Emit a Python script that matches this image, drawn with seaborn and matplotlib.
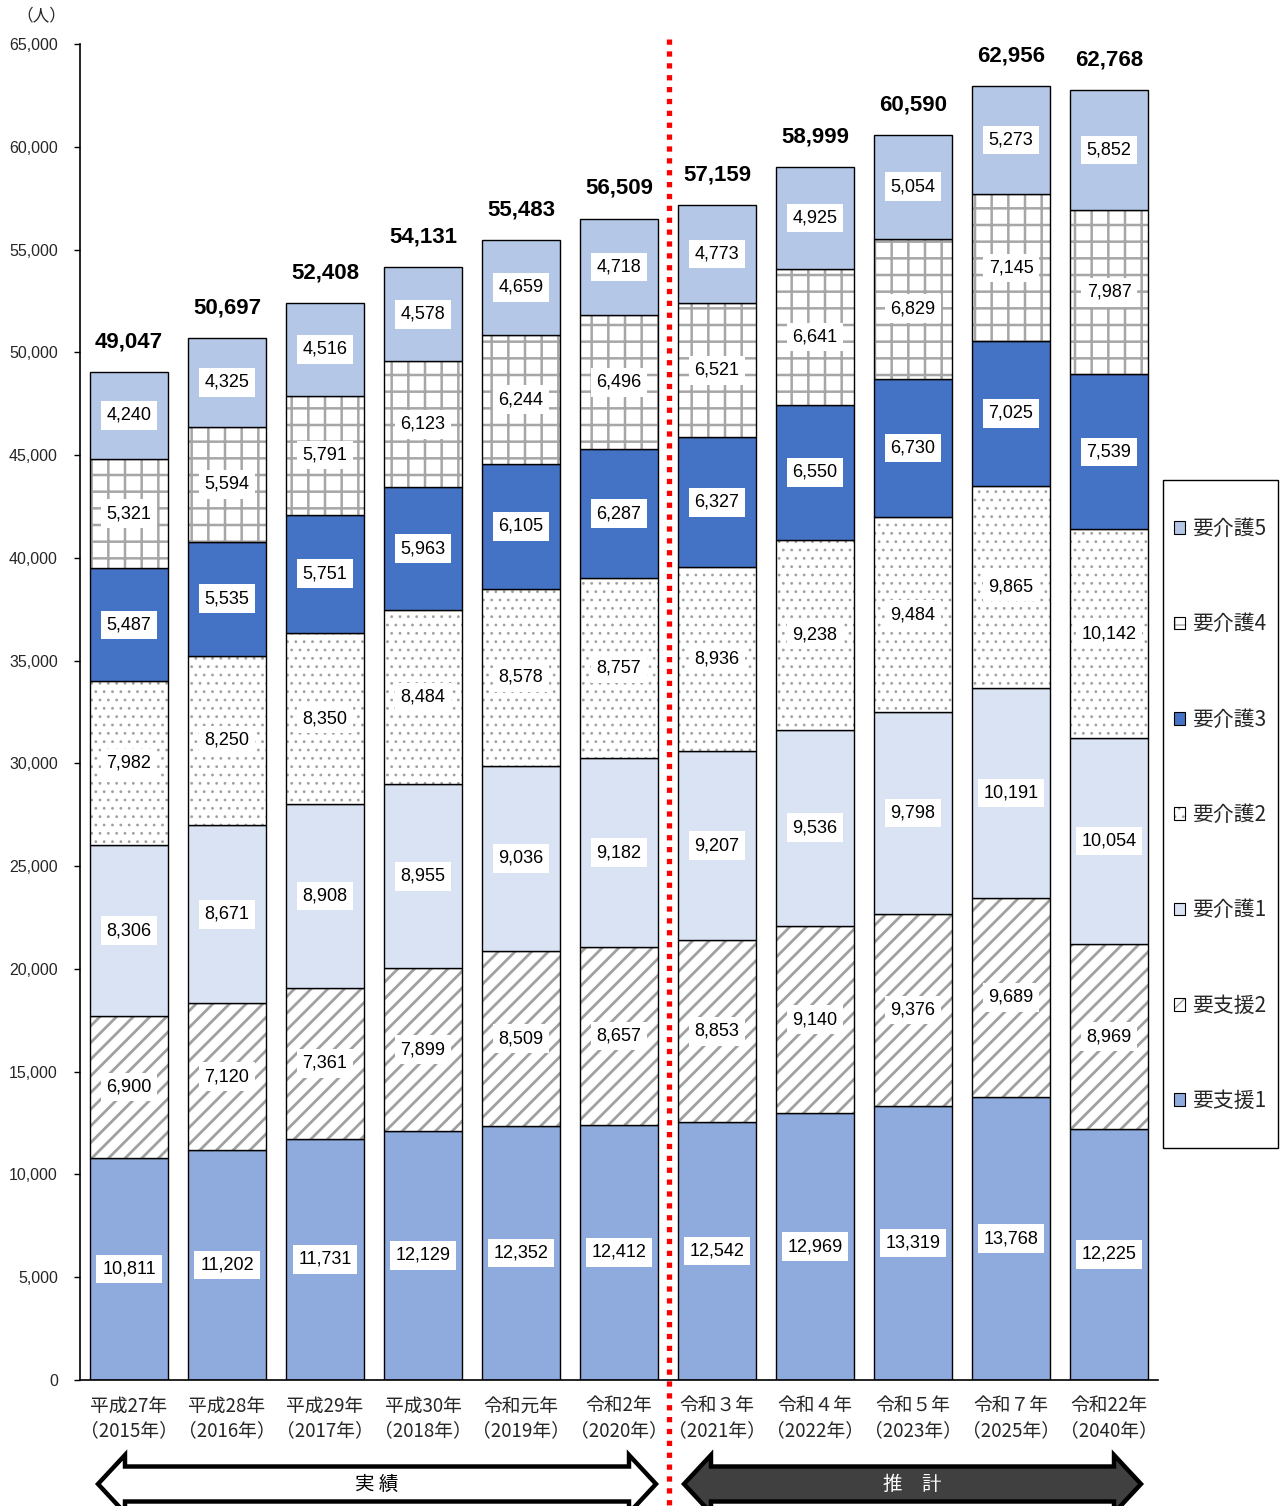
import numpy as np
import pandas as pd
import matplotlib
matplotlib.use("Agg")
import matplotlib.pyplot as plt
import matplotlib.colors as mcolors
from matplotlib.patches import Patch, Polygon, Rectangle
import seaborn as sns

# ---------------- data ----------------
years = ["平成27年\n（2015年）", "平成28年\n（2016年）", "平成29年\n（2017年）",
         "平成30年\n（2018年）", "令和元年\n（2019年）", "令和2年\n（2020年）",
         "令和３年\n（2021年）", "令和４年\n（2022年）", "令和５年\n（2023年）",
         "令和７年\n（2025年）", "令和22年\n（2040年）"]
layers = ["要支援1", "要支援2", "要介護1", "要介護2", "要介護3", "要介護4", "要介護5"]
shien1 = [10811, 11202, 11731, 12129, 12352, 12412, 12542, 12969, 13319, 13768, 12225]
shien2 = [6900, 7120, 7361, 7899, 8509, 8657, 8853, 9140, 9376, 9689, 8969]
kaigo1 = [8306, 8671, 8908, 8955, 9036, 9182, 9207, 9536, 9798, 10191, 10054]
kaigo2 = [7982, 8250, 8350, 8484, 8578, 8757, 8936, 9238, 9484, 9865, 10142]
kaigo3 = [5487, 5535, 5751, 5963, 6105, 6287, 6327, 6550, 6730, 7025, 7539]
kaigo4 = [5321, 5594, 5791, 6123, 6244, 6496, 6521, 6641, 6829, 7145, 7987]
kaigo5 = [4240, 4325, 4516, 4578, 4659, 4718, 4773, 4925, 5054, 5273, 5852]
totals = [49047, 50697, 52408, 54131, 55483, 56509, 57159, 58999, 60590, 62956, 62768]
yticks = list(range(0, 65001, 5000))
series = [shien1, shien2, kaigo1, kaigo2, kaigo3, kaigo4, kaigo5]

# ---------------- styles ----------------
styles = {
    "要支援1": ("#8FAADC", None, None, None),
    "要支援2": ("white", "//", "#A0A0A0", 2.0),
    "要介護1": ("#DAE3F3", None, None, None),
    "要介護2": ("white", "..", "#A0A0A0", 0.8),
    "要介護3": ("#4472C4", None, None, None),
    "要介護4": ("white", "+", "#A6A6A6", 1.8),
    "要介護5": ("#B4C7E7", None, None, None),
}

sns.set_theme(style="white")
plt.rcParams["font.family"] = ["Noto Sans CJK JP", "DejaVu Sans"]
plt.rcParams["hatch.linewidth"] = 1.8

W, H = 1280, 1506
fig = plt.figure(figsize=(W / 100, H / 100), dpi=100)
ax = fig.add_axes([80 / W, 1 - 1380 / H, (1158 - 80) / W, (1380 - 44) / H])

num_font = ["Liberation Sans", "DejaVu Sans"]


def style_hatch(p, hc, hlw):
    p._hatch_color = mcolors.to_rgba(hc)
    if hasattr(p, "set_hatch_linewidth"):
        p.set_hatch_linewidth(hlw)
    elif hasattr(p, "_hatch_linewidth"):
        p._hatch_linewidth = hlw


bottom = np.zeros(len(years))
for name, vals in zip(layers, series):
    fc, hatch, hc, hlw = styles[name]
    df = pd.DataFrame({"year": years, "value": vals})
    kw = {}
    if hatch:
        kw["hatch"] = hatch
    sns.barplot(data=df, x="year", y="value", order=years, color=fc, saturation=1,
                edgecolor="black", linewidth=1.0, width=0.8, bottom=bottom.copy(),
                errorbar=None, ax=ax, zorder=2, **kw)
    cont = ax.containers[-1]
    if hatch:
        for p in cont.patches:
            style_hatch(p, hc, hlw)
    for j, v in enumerate(vals):
        ax.text(j, bottom[j] + v / 2, f"{v:,}", ha="center", va="center",
                fontsize=13, family=num_font, color="black", zorder=4,
                bbox=dict(boxstyle="square,pad=0.32", fc="white", ec="none"))
    bottom = bottom + np.array(vals)

for j, t in enumerate(totals):
    ax.text(j, t + 950, f"{t:,}", ha="center", va="bottom", fontsize=16,
            fontweight="bold", family=num_font, color="black", zorder=4)

ax.set_xlim(-0.5, len(years) - 0.5)
ax.set_ylim(0, 65000)
ax.set_yticks(yticks)
ax.set_yticklabels([f"{v:,}" for v in yticks], fontsize=11.5, family=num_font)
ax.set_xticks(range(len(years)))
ax.set_xticklabels(years, fontsize=13.5, linespacing=1.25)
ax.set_xticks(np.arange(-0.5, len(years), 1), minor=True)
ax.tick_params(axis="x", which="major", length=0, pad=11)
ax.tick_params(axis="x", which="minor", length=5, width=1, color="black", direction="out")
ax.tick_params(axis="y", which="major", length=4, width=1, color="black", direction="out", pad=12, left=True)
ax.set_xlabel("")
ax.set_ylabel("")
for s in ["top", "right"]:
    ax.spines[s].set_visible(False)
for s in ["left", "bottom"]:
    ax.spines[s].set_color("black")
    ax.spines[s].set_linewidth(1.2)
ax.grid(False)

fig.text(41 / W, 1 - 16 / H, "（人）", ha="center", va="center", fontsize=12)

# ---------------- overlay: divider line, arrows, legend frame ----------------
ov = fig.add_axes([0, 0, 1, 1], zorder=5)
ov.set_xlim(0, W)
ov.set_ylim(H, 0)
ov.axis("off")
ov.patch.set_alpha(0)

ov.plot([669, 669], [39, H], color="#FF0000", lw=3.8, linestyle=(0, (1, 1.25)),
        dash_capstyle="butt")


def arrow(xl, xr, fc, text, tc):
    yc, hh, bh, hl = 1484, 29, 17.5, 27
    pts = [(xl, yc), (xl + hl, yc - hh), (xl + hl, yc - bh), (xr - hl, yc - bh),
           (xr - hl, yc - hh), (xr, yc), (xr - hl, yc + hh), (xr - hl, yc + bh),
           (xl + hl, yc + bh), (xl + hl, yc + hh)]
    ov.add_patch(Polygon(pts, closed=True, fc=fc, ec="black", lw=3.2, joinstyle="miter"))
    ov.text((xl + xr) / 2, yc, text, ha="center", va="center", fontsize=14, color=tc)


arrow(98, 656, "white", "実 績", "black")
arrow(684, 1141, "#404040", "推　計", "white")

ov.add_patch(Rectangle((1163, 480), 115, 668, fc="white", ec="black", lw=1.0))

handles = []
for name in layers[::-1]:
    fc, hatch, hc, hlw = styles[name]
    handles.append(Patch(facecolor=fc, edgecolor="black", lw=0.8, hatch=hatch))
leg = fig.legend(handles, layers[::-1], loc="upper left",
                 bbox_to_anchor=(1174 / W, 1 - 518 / H), frameon=False,
                 borderpad=0, borderaxespad=0, labelspacing=3.52,
                 handlelength=0.55, handleheight=0.55, handletextpad=0.3,
                 prop={"family": ["Noto Sans CJK JP", "DejaVu Sans"], "size": 15})
leg.set_zorder(10)
for p, name in zip(leg.get_patches(), layers[::-1]):
    fc, hatch, hc, hlw = styles[name]
    if hc:
        style_hatch(p, hc, min(hlw, 1.0))

fig.savefig("out.png", dpi=100)
